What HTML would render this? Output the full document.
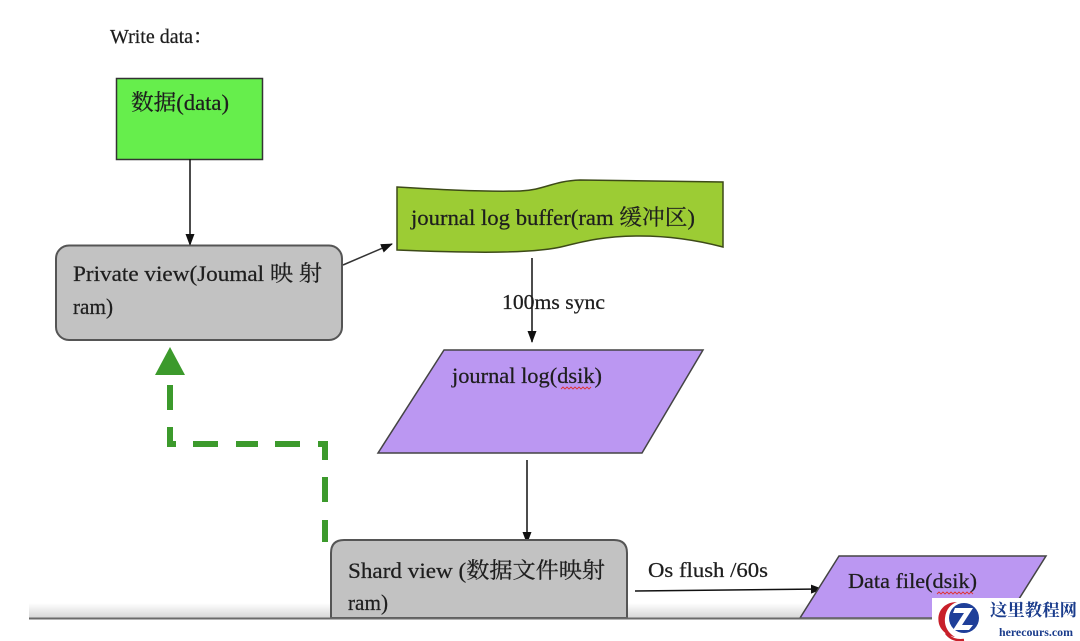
<!DOCTYPE html>
<html><head><meta charset="utf-8"><style>
html,body{margin:0;padding:0;background:#fff;}
svg{display:block;}
text{font-family:"Liberation Serif","Noto Serif CJK SC","Noto Sans CJK SC",serif;fill:#1e1e1e;stroke:#1e1e1e;stroke-width:0.25;}
</style></head><body>
<svg width="1080" height="641" viewBox="0 0 1080 641" xmlns="http://www.w3.org/2000/svg">
<defs>
<marker id="ah" markerWidth="12" markerHeight="12" refX="11" refY="6" orient="auto" markerUnits="userSpaceOnUse">
<path d="M0,1.5 L12,6 L0,10.5 Z" fill="#111"/>
</marker>
<linearGradient id="band" x1="0" y1="0" x2="0" y2="1">
<stop offset="0" stop-color="#ffffff"/>
<stop offset="1" stop-color="#d6d6d6"/>
</linearGradient>
</defs>
<rect width="1080" height="641" fill="#fff"/>
<rect x="29" y="603" width="1051" height="15" fill="url(#band)"/>

<text x="110" y="43" font-size="20" textLength="103" lengthAdjust="spacingAndGlyphs">Write data：</text>

<!-- green data box -->
<rect x="116.5" y="78.5" width="146" height="81" fill="#66ee4c" stroke="#333" stroke-width="1.5"/>
<text x="131" y="110" font-size="22" textLength="98" lengthAdjust="spacingAndGlyphs">数据(data)</text>
<line x1="190" y1="159" x2="190" y2="245" stroke="#111" stroke-width="1.5" marker-end="url(#ah)"/>

<!-- private view -->
<rect x="56" y="245.5" width="286" height="94.5" rx="13" fill="#c2c2c2" stroke="#555" stroke-width="2"/>
<text x="73" y="281" font-size="22" textLength="249" lengthAdjust="spacingAndGlyphs">Private view(Joumal 映 射</text>
<text x="73" y="314" font-size="22" textLength="40" lengthAdjust="spacingAndGlyphs">ram)</text>
<line x1="343" y1="265" x2="392" y2="244" stroke="#333" stroke-width="1.5" marker-end="url(#ah)"/>

<!-- buffer -->
<path d="M397,187 C430,189 480,192 520,191 C545,190 552,181 580,180 L723,182 L723,247 C700,241 670,236 640,236 C605,236 585,241 565,246 C535,254 470,253 397,250 Z" fill="#9ccc34" stroke="#3d4a18" stroke-width="1.5"/>
<text x="411" y="225" font-size="22" textLength="284" lengthAdjust="spacingAndGlyphs">journal log buffer(ram 缓冲区)</text>
<line x1="532" y1="258" x2="532" y2="342" stroke="#111" stroke-width="1.5" marker-end="url(#ah)"/>
<text x="502" y="309" font-size="21" textLength="103" lengthAdjust="spacingAndGlyphs">100ms sync</text>

<!-- journal log -->
<path d="M444,350 L703,350 L642,453 L378,453 Z" fill="#bb97f2" stroke="#444" stroke-width="1.5"/>
<text x="452" y="383" font-size="22" textLength="150" lengthAdjust="spacingAndGlyphs">journal log(dsik)</text>
<path d="M561,389 l2,-2 l2,2 l2,-2 l2,2 l2,-2 l2,2 l2,-2 l2,2 l2,-2 l2,2 l2,-2 l2,2 l2,-2 l2,2 l2,-2" fill="none" stroke="#d33" stroke-width="0.9"/>
<line x1="527" y1="460" x2="527" y2="543" stroke="#111" stroke-width="1.5" marker-end="url(#ah)"/>

<!-- green dashed -->
<g stroke="#3c9a2c" stroke-width="6" fill="none">
<line x1="325" y1="520" x2="325" y2="542"/>
<line x1="325" y1="477" x2="325" y2="502"/>
<path d="M325,460 L325,444 L318,444"/>
<line x1="275" y1="444" x2="300" y2="444"/>
<line x1="236" y1="444" x2="258" y2="444"/>
<line x1="193" y1="444" x2="218" y2="444"/>
<path d="M176,444 L170,444 L170,427"/>
<line x1="170" y1="385" x2="170" y2="410"/>
</g>
<path d="M155,375 L185,375 L170,347 Z" fill="#3c9a2c"/>

<!-- shard view -->
<path d="M331,618 V553 Q331,540 344,540 H614 Q627,540 627,553 V618 Z" fill="#c2c2c2" stroke="#555" stroke-width="2"/>
<text x="348" y="578" font-size="22" textLength="257" lengthAdjust="spacingAndGlyphs">Shard view (数据文件映射</text>
<text x="348" y="610" font-size="22" textLength="40" lengthAdjust="spacingAndGlyphs">ram)</text>

<text x="648" y="577" font-size="21" textLength="120" lengthAdjust="spacingAndGlyphs">Os flush /60s</text>
<line x1="635" y1="591" x2="822" y2="589" stroke="#111" stroke-width="1.5" marker-end="url(#ah)"/>

<!-- data file -->
<path d="M839,556 L1046,556 L1007,618 L800,618 Z" fill="#bb97f2" stroke="#444" stroke-width="1.5"/>
<text x="848" y="588" font-size="21" textLength="129" lengthAdjust="spacingAndGlyphs">Data file(dsik)</text>
<path d="M937,594 l2,-2 l2,2 l2,-2 l2,2 l2,-2 l2,2 l2,-2 l2,2 l2,-2 l2,2 l2,-2 l2,2 l2,-2 l2,2 l2,-2 l2,2 l2,-2 l2,2" fill="none" stroke="#d33" stroke-width="0.9"/>

<!-- bottom -->
<rect x="0" y="619" width="1080" height="22" fill="#fff"/>
<line x1="29" y1="618.5" x2="1080" y2="618.5" stroke="#6a6a6a" stroke-width="2"/>

<!-- watermark -->
<rect x="932" y="598" width="148" height="43" fill="#fff"/>
<path d="M957,602 C944,602 936,612 939,624 C941,631 948,636 955,637 C948,633 944,626 945,618 C946,609 951,604 957,602 Z" fill="#c8202a"/>
<path d="M946,633 C950,639 957,641 964,640" fill="none" stroke="#c8202a" stroke-width="2.5"/>
<circle cx="964" cy="618" r="15" fill="#1f3f99"/>
<path d="M955,608 H973 L962,625 H973 L969,630 H953 L964,613 H953 Z" fill="#fff"/>
<text x="990" y="616" font-size="17" font-weight="bold" textLength="87" lengthAdjust="spacingAndGlyphs" style="fill:#1a3c8c;stroke:none;font-family:'Noto Serif CJK SC','Noto Sans CJK SC',serif;">这里教程网</text>
<text x="999" y="636" font-size="12" font-weight="bold" textLength="74" lengthAdjust="spacingAndGlyphs" style="fill:#1a3c8c;stroke:none;">herecours.com</text>
</svg>
</body></html>
